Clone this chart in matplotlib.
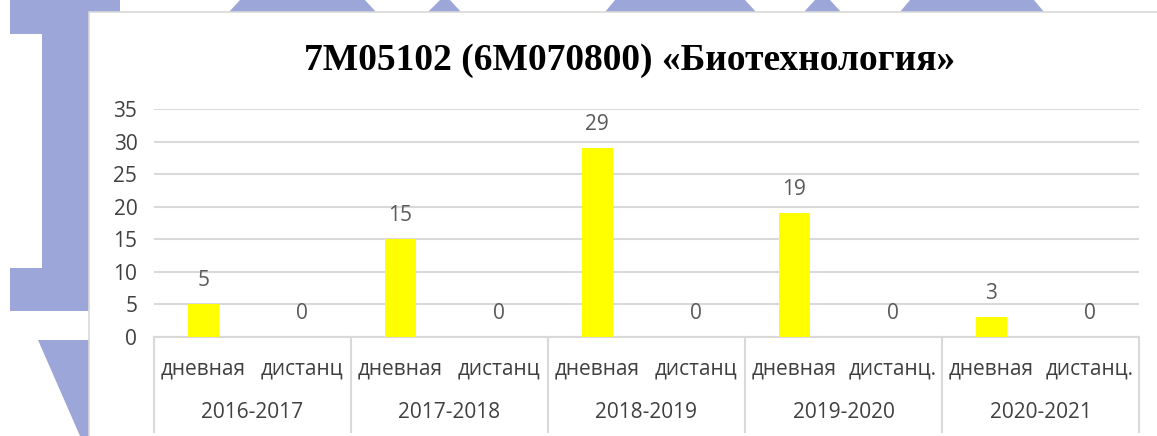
import matplotlib
matplotlib.use('Agg')
import matplotlib.pyplot as plt
from matplotlib.patches import Polygon, Rectangle

# Chart data
years = ['2016-2017', '2017-2018', '2018-2019', '2019-2020', '2020-2021']
forms = ['дневная', 'дистанц', 'дневная', 'дистанц', 'дневная', 'дистанц',
         'дневная', 'дистанц.', 'дневная', 'дистанц.']
values = [5, 0, 15, 0, 29, 0, 19, 0, 3, 0]
y_ticks = [0, 5, 10, 15, 20, 25, 30, 35]

title = '7M05102 (6M070800) «Биотехнология»'

W, H = 1157, 436
fig = plt.figure(figsize=(W / 100, H / 100), dpi=100)
fig.patch.set_facecolor('white')

sans = ['Open Sans', 'DejaVu Sans']
txt_color = '#595959'
lbl_color = '#404040'
grid_color = '#D9D9D9'
bg_color = '#9DA6D8'
fs = 15


def px(x, y):
    # pixel (from top-left) -> figure fraction
    return (x / W, 1 - y / H)


# Background watermark shapes behind the chart box
shapes = [
    [(10, 0), (120, 0), (120, 34), (10, 34)],
    [(42, 0), (90, 0), (90, 300), (42, 300)],
    [(10, 268), (90, 268), (90, 311), (10, 311)],
    [(38, 340), (90, 340), (90, 436), (80, 436)],
    [(240, 0), (365, 0), (376, 12), (229, 12)],
    [(440, 0), (450, 0), (461, 12), (428, 12)],
    [(615, 0), (745, 0), (756, 12), (605, 12)],
    [(815, 0), (830, 0), (841, 12), (804, 12)],
    [(910, 0), (1034, 0), (1044, 12), (900, 12)],
]
for pts in shapes:
    fig.patches.append(Polygon([px(*p) for p in pts], closed=True, transform=fig.transFigure,
                               facecolor=bg_color, edgecolor='none', zorder=0))

# White chart box
x0, y0 = px(89, 437)
x1, y1 = px(1170, 12)
fig.patches.append(Rectangle((x0, y0), x1 - x0, y1 - y0, transform=fig.transFigure,
                             facecolor='white', edgecolor=grid_color, linewidth=1.2, zorder=1))

# Plot area
left, right, top, bottom = 154, 1139, 109, 337
ax = fig.add_axes([left / W, 1 - bottom / H, (right - left) / W, (bottom - top) / H])
ax.set_zorder(2)
ax.patch.set_alpha(0)

xpos = list(range(len(values)))
ax.bar(xpos, values, width=0.31, color='#FFFF00', zorder=3)

for x, v in zip(xpos, values):
    ax.annotate(str(v), (x, v), xytext=(0, 17), textcoords='offset points',
                ha='center', va='center', fontsize=fs, color=txt_color, family=sans)

ax.set_xlim(-0.5, len(values) - 0.5)
ax.set_ylim(0, 35)
ax.set_yticks(y_ticks)
ax.set_yticklabels([str(t) for t in y_ticks], fontsize=fs, color=lbl_color, family=sans)
ax.tick_params(axis='y', length=0, pad=12)
ax.set_xticks([])
ax.grid(axis='y', color=grid_color, linewidth=1.5, zorder=0)
for s in ['top', 'right', 'left']:
    ax.spines[s].set_visible(False)
ax.spines['bottom'].set_color(grid_color)
ax.spines['bottom'].set_linewidth(1.5)

# Multi-level category axis
trans = ax.get_xaxis_transform()
span = bottom - top
depth = (432 - bottom) / span
for i in range(len(years) + 1):
    xs = 2 * i - 0.5
    ax.plot([xs, xs], [0, -depth], transform=trans, color=grid_color, linewidth=1.5,
            clip_on=False, zorder=1)
for x, f in zip(xpos, forms):
    ax.text(x, -(369 - bottom) / span, f, transform=trans, ha='center', va='center',
            fontsize=fs, color=lbl_color, family=sans)
for i, yr in enumerate(years):
    ax.text(2 * i + 0.5, -(412 - bottom) / span, yr, transform=trans, ha='center',
            va='center', fontsize=fs, color=lbl_color, family=sans)

fig.text(630 / W, 1 - 60 / H, title, ha='center', va='center', fontsize=27,
         fontweight='bold', family='Liberation Serif', color='black', zorder=3)

fig.savefig('out.png', dpi=100)
